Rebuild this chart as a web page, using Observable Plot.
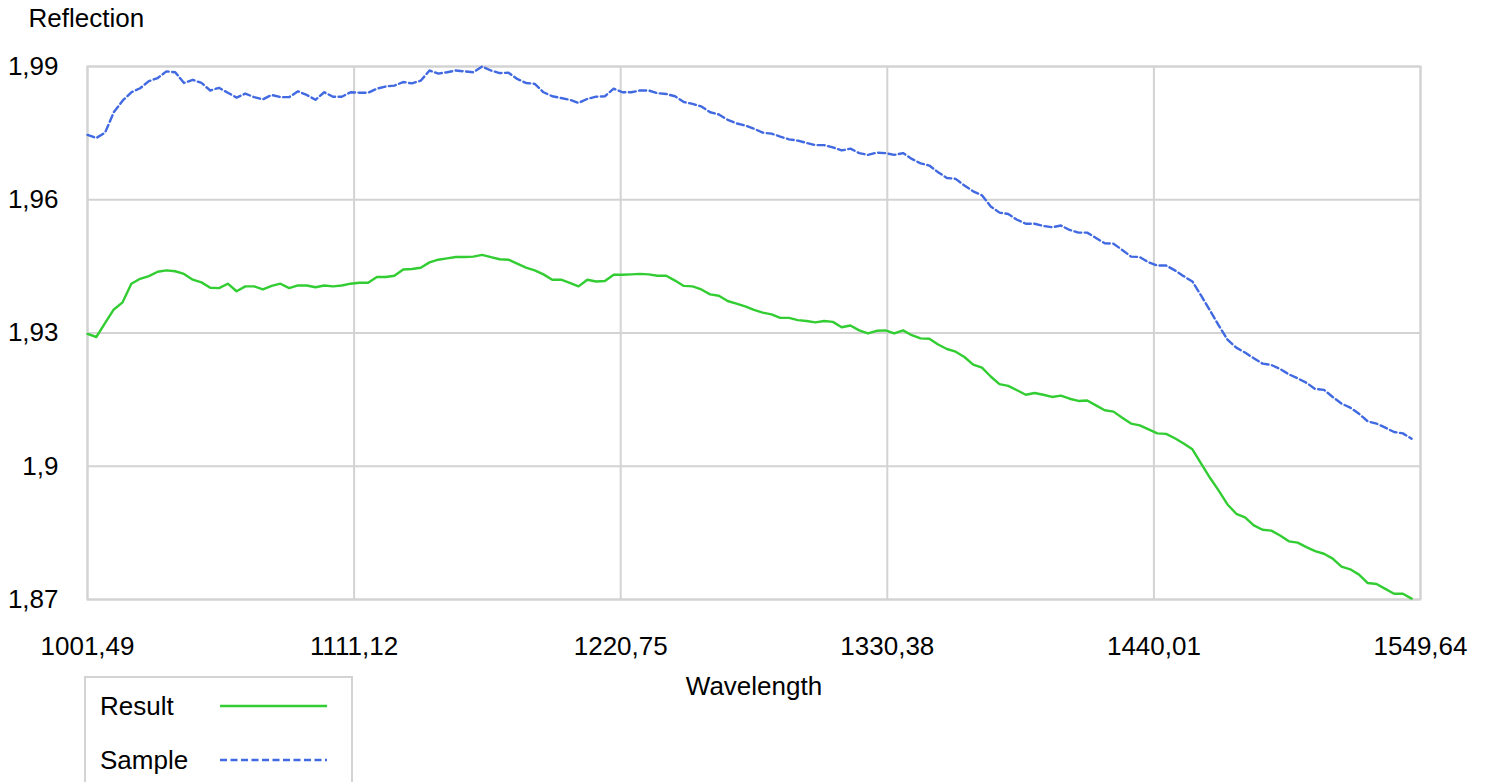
<!DOCTYPE html>
<html>
<head>
<meta charset="utf-8">
<script src="https://cdn.jsdelivr.net/npm/d3@7"></script>
<script src="https://cdn.jsdelivr.net/npm/@observablehq/plot@0.6"></script>
<style>
html, body { margin: 0; padding: 0; background: #fff; }
#wrap { position: relative; width: 1487px; height: 782px; overflow: hidden; font-family: "Liberation Sans", Arial, sans-serif; }
#legend { position: absolute; left: 84px; top: 676px; width: 265px; height: 130px; border: 2px solid #d3d3d3; background: #fff; }
#legend .lab { position: absolute; left: 14px; font-size: 26px; line-height: 1; transform: translateY(-50%); color: #000; }
#legend svg { position: absolute; left: 134px; }
</style>
</head>
<body>
<div id="wrap">
  <div id="chart"></div>
  <div id="legend"></div>
</div>
<script>
const wavelength = [
1001.49,1005.10,1008.70,1012.31,1015.91,1019.52,1023.13,1026.73,1030.34,1033.94,
1037.55,1041.16,1044.76,1048.37,1051.97,1055.58,1059.19,1062.79,1066.40,1070.00,
1073.61,1077.22,1080.82,1084.43,1088.03,1091.64,1095.25,1098.85,1102.46,1106.06,
1109.67,1113.28,1116.88,1120.49,1124.09,1127.70,1131.31,1134.91,1138.52,1142.12,
1145.73,1149.34,1152.94,1156.55,1160.15,1163.76,1167.37,1170.97,1174.58,1178.18,
1181.79,1185.40,1189.00,1192.61,1196.21,1199.82,1203.43,1207.03,1210.64,1214.24,
1217.85,1221.46,1225.06,1228.67,1232.27,1235.88,1239.49,1243.09,1246.70,1250.30,
1253.91,1257.52,1261.12,1264.73,1268.33,1271.94,1275.55,1279.15,1282.76,1286.36,
1289.97,1293.58,1297.18,1300.79,1304.39,1308.00,1311.61,1315.21,1318.82,1322.42,
1326.03,1329.64,1333.24,1336.85,1340.45,1344.06,1347.67,1351.27,1354.88,1358.48,
1362.09,1365.70,1369.30,1372.91,1376.51,1380.12,1383.73,1387.33,1390.94,1394.54,
1398.15,1401.76,1405.36,1408.97,1412.57,1416.18,1419.79,1423.39,1427.00,1430.60,
1434.21,1437.82,1441.42,1445.03,1448.63,1452.24,1455.85,1459.45,1463.06,1466.66,
1470.27,1473.88,1477.48,1481.09,1484.69,1488.30,1491.91,1495.51,1499.12,1502.72,
1506.33,1509.94,1513.54,1517.15,1520.75,1524.36,1527.97,1531.57,1535.18,1538.78,
1542.39,1546.00
];

const result = [
1.9298,1.9291,1.9322,1.9353,1.9369,1.9411,1.9422,1.9428,1.9438,1.9441,
1.9439,1.9433,1.9420,1.9414,1.9402,1.9401,1.9411,1.9394,1.9405,1.9405,
1.9398,1.9406,1.9411,1.9401,1.9407,1.9407,1.9403,1.9407,1.9405,1.9407,
1.9411,1.9413,1.9413,1.9426,1.9426,1.9429,1.9443,1.9444,1.9447,1.9459,
1.9465,1.9468,1.9471,1.9471,1.9472,1.9476,1.9471,1.9466,1.9465,1.9456,
1.9447,1.9441,1.9432,1.9420,1.9420,1.9413,1.9405,1.9420,1.9416,1.9417,
1.9431,1.9431,1.9432,1.9433,1.9432,1.9429,1.9429,1.9418,1.9406,1.9405,
1.9398,1.9387,1.9384,1.9372,1.9366,1.9360,1.9352,1.9346,1.9342,1.9334,
1.9334,1.9329,1.9327,1.9324,1.9327,1.9325,1.9313,1.9317,1.9306,1.9299,
1.9305,1.9306,1.9299,1.9306,1.9295,1.9288,1.9287,1.9274,1.9264,1.9258,
1.9246,1.9229,1.9222,1.9202,1.9185,1.9181,1.9171,1.9161,1.9165,1.9161,
1.9156,1.9159,1.9152,1.9147,1.9148,1.9137,1.9126,1.9123,1.9109,1.9096,
1.9092,1.9083,1.9074,1.9073,1.9063,1.9051,1.9038,1.9006,1.8974,1.8945,
1.8914,1.8893,1.8885,1.8867,1.8857,1.8855,1.8844,1.8831,1.8828,1.8818,
1.8809,1.8803,1.8792,1.8774,1.8768,1.8756,1.8737,1.8735,1.8724,1.8713,
1.8713,1.8702
];

const sample = [
1.9746,1.9739,1.9751,1.9797,1.9823,1.9842,1.9851,1.9867,1.9874,1.9889,
1.9887,1.9863,1.9870,1.9863,1.9846,1.9852,1.9841,1.9830,1.9839,1.9831,
1.9826,1.9836,1.9831,1.9831,1.9844,1.9836,1.9825,1.9842,1.9832,1.9832,
1.9842,1.9841,1.9841,1.9850,1.9855,1.9857,1.9865,1.9862,1.9868,1.9891,
1.9884,1.9887,1.9891,1.9889,1.9887,1.9900,1.9891,1.9885,1.9886,1.9872,
1.9863,1.9861,1.9842,1.9833,1.9829,1.9825,1.9818,1.9827,1.9832,1.9833,
1.9850,1.9842,1.9842,1.9846,1.9846,1.9840,1.9838,1.9833,1.9820,1.9816,
1.9810,1.9797,1.9792,1.9780,1.9772,1.9767,1.9760,1.9751,1.9749,1.9742,
1.9736,1.9733,1.9728,1.9723,1.9723,1.9718,1.9711,1.9715,1.9705,1.9701,
1.9706,1.9705,1.9701,1.9705,1.9692,1.9682,1.9677,1.9662,1.9649,1.9647,
1.9632,1.9619,1.9610,1.9585,1.9571,1.9568,1.9555,1.9546,1.9546,1.9541,
1.9538,1.9542,1.9532,1.9526,1.9526,1.9514,1.9502,1.9501,1.9487,1.9472,
1.9471,1.9459,1.9452,1.9452,1.9441,1.9428,1.9416,1.9384,1.9351,1.9317,
1.9285,1.9267,1.9256,1.9243,1.9231,1.9228,1.9219,1.9207,1.9198,1.9188,
1.9174,1.9172,1.9156,1.9141,1.9132,1.9118,1.9101,1.9096,1.9087,1.9077,
1.9074,1.9062
];

const xTicks = [1001.49, 1111.12, 1220.75, 1330.38, 1440.01, 1549.64];
const yTicks = [1.87, 1.90, 1.93, 1.96, 1.99];
const seriesNames = ["Result", "Sample"];
const seriesColors = ["#32cd32", "#4169e1"];
const seriesDash = [null, "7,3.5"];
const xLabel = "Wavelength";
const yLabel = "Reflection";

const fmt = d => String(+d.toFixed(2)).replace(".", ",");
const data = wavelength.map((w, i) => ({w, result: result[i], sample: sample[i]}));
const FONT = "'Liberation Sans', Arial, sans-serif";
const FS = 26;
const GRID = "#d3d3d3";

const chart = Plot.plot({
  width: 1487,
  height: 782,
  marginTop: 66,
  marginBottom: 183,
  marginLeft: 87,
  marginRight: 67,
  style: {fontFamily: FONT, fontSize: FS + "px", color: "#000", background: "#fff"},
  x: {domain: [1001.49, 1549.64]},
  y: {domain: [1.87, 1.99]},
  marks: [
    Plot.gridX(xTicks, {stroke: GRID, strokeOpacity: 1, strokeWidth: 2}),
    Plot.gridY(yTicks, {stroke: GRID, strokeOpacity: 1, strokeWidth: 2}),
    Plot.frame({stroke: GRID, strokeWidth: 2}),
    Plot.axisX(xTicks, {tickSize: 0, tickPadding: 37, tickFormat: fmt, label: null, fontSize: FS}),
    Plot.axisY(yTicks, {tickSize: 0, tickPadding: 29, tickFormat: fmt, label: null, fontSize: FS}),
    Plot.line(data, {x: "w", y: "sample", stroke: seriesColors[1], strokeWidth: 2.4, strokeDasharray: seriesDash[1]}),
    Plot.line(data, {x: "w", y: "result", stroke: seriesColors[0], strokeWidth: 2.4}),
    Plot.text([yLabel], {text: d => d, frameAnchor: "top-left", lineAnchor: "middle", dx: -59, dy: -48, textAnchor: "start", fontSize: FS}),
    Plot.text([xLabel], {text: d => d, frameAnchor: "bottom", lineAnchor: "middle", dy: 87, fontSize: FS})
  ]
});
document.getElementById("chart").appendChild(chart);

// legend
const legend = document.getElementById("legend");
const rowsY = [28, 82];
seriesNames.forEach((name, i) => {
  const lab = document.createElement("div");
  lab.className = "lab";
  lab.style.top = rowsY[i] + "px";
  lab.textContent = name;
  legend.appendChild(lab);
  const svg = d3.create("svg").attr("width", 108).attr("height", 10)
    .style("top", (rowsY[i] - 5) + "px");
  svg.append("line").attr("x1", 0).attr("x2", 107).attr("y1", 5).attr("y2", 5)
    .attr("stroke", seriesColors[i]).attr("stroke-width", 2.4)
    .attr("stroke-dasharray", seriesDash[i]);
  legend.appendChild(svg.node());
});
</script>
</body>
</html>
